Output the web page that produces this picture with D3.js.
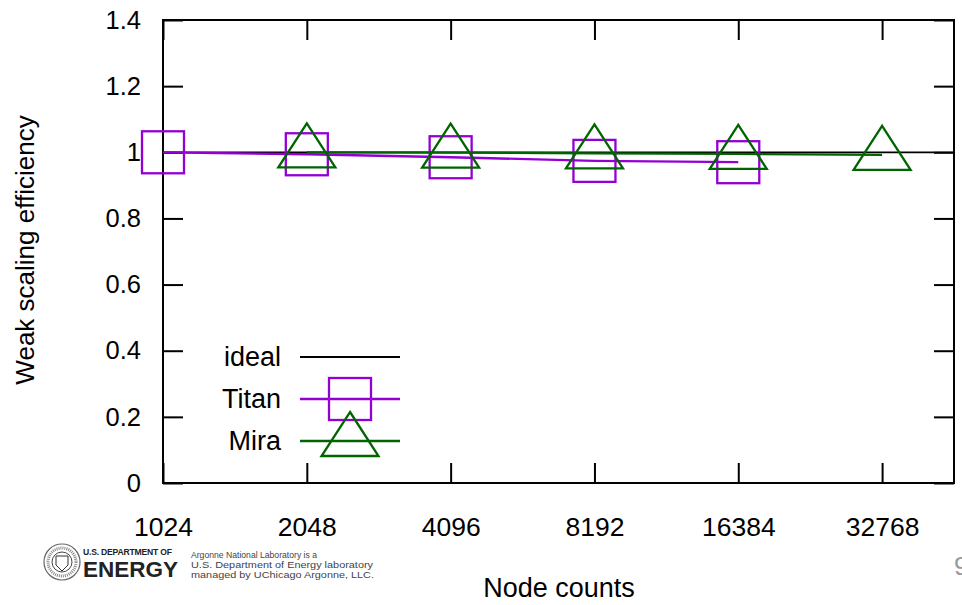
<!DOCTYPE html>
<html>
<head>
<meta charset="utf-8">
<script src="https://cdn.jsdelivr.net/npm/d3@7"></script>
<style>
  html, body { margin: 0; padding: 0; background: #fff; }
  svg { display: block; font-family: "Liberation Sans", Arial, Helvetica, sans-serif; }
</style>
</head>
<body>
<svg id="chart" width="962" height="605"></svg>
<script>
// ---- data ----
const nodeCounts = [1024, 2048, 4096, 8192, 16384, 32768];
const titanNodes = [1024, 2048, 4096, 8192, 16384];
const titanEff   = [1.000, 0.994, 0.985, 0.974, 0.970];
const miraNodes  = [2048, 4096, 8192, 16384, 32768];
const miraEff    = [1.000, 0.999, 0.997, 0.995, 0.992];
const idealEff   = 1.0;
const yTicks     = [0, 0.2, 0.4, 0.6, 0.8, 1, 1.2, 1.4];
const seriesNames = ["ideal", "Titan", "Mira"];

const colors = { ideal: "#000000", Titan: "#9400d3", Mira: "#006400" };

// ---- layout ----
const pL = 163, pR = 954, pT = 20, pB = 483;
const svg = d3.select("#chart");

const x = d3.scaleLog().base(2)
  .domain([1024, 1024 * Math.pow(2, 5.5)])
  .range([pL, pR]);
const y = d3.scaleLinear().domain([0, 1.4]).range([pB, pT]);

// frame
svg.append("rect")
  .attr("x", pL).attr("y", pT)
  .attr("width", pR - pL).attr("height", pB - pT)
  .attr("fill", "none").attr("stroke", "#000").attr("stroke-width", 2);

function styleAxis(g, fontSize) {
  g.select(".domain").remove();
  g.selectAll(".tick line").attr("stroke", "#000").attr("stroke-width", 2);
  g.selectAll(".tick text").attr("fill", "#000").attr("font-size", fontSize)
    .attr("font-family", "'Liberation Sans', Arial, sans-serif");
}

// bottom axis
svg.append("g").attr("transform", `translate(0,${pB})`)
  .call(d3.axisBottom(x).tickValues(nodeCounts).tickFormat(d3.format("d"))
    .tickSize(-20).tickPadding(34))
  .call(g => styleAxis(g, 26.5));
// top axis
svg.append("g").attr("transform", `translate(0,${pT})`)
  .call(d3.axisTop(x).tickValues(nodeCounts).tickFormat("").tickSize(-20))
  .call(g => styleAxis(g, 0));
// left axis
svg.append("g").attr("transform", `translate(${pL},0)`)
  .call(d3.axisLeft(y).tickValues(yTicks).tickFormat(d => String(+d.toFixed(1)))
    .tickSize(-20).tickPadding(22))
  .call(g => styleAxis(g, 25.5));
// right axis
svg.append("g").attr("transform", `translate(${pR},0)`)
  .call(d3.axisRight(y).tickValues(yTicks).tickFormat("").tickSize(-20))
  .call(g => styleAxis(g, 0));

// axis titles
svg.append("text")
  .attr("x", 559).attr("y", 597)
  .attr("text-anchor", "middle").attr("font-size", 27).attr("fill", "#000")
  .text("Node counts");
svg.append("text")
  .attr("transform", "translate(34,250) rotate(-90)")
  .attr("text-anchor", "middle").attr("font-size", 26).attr("fill", "#000")
  .text("Weak scaling efficiency");

// marker shapes
const sq = 42;      // square side
const triW = 57, triUp = 29, triDown = 15;
function drawSquare(g, cx, cy, color) {
  g.append("rect").attr("x", cx - sq / 2).attr("y", cy - sq / 2)
    .attr("width", sq).attr("height", sq)
    .attr("fill", "none").attr("stroke", color).attr("stroke-width", 2.3);
}
function drawTriangle(g, cx, cy, color) {
  g.append("path")
    .attr("d", `M${cx},${cy - triUp}L${cx + triW / 2},${cy + triDown}L${cx - triW / 2},${cy + triDown}Z`)
    .attr("fill", "none").attr("stroke", color).attr("stroke-width", 2.3)
    .attr("stroke-linejoin", "miter");
}

const line = d3.line().x(d => x(d[0])).y(d => y(d[1]));

// ideal line
svg.append("path")
  .datum([[1024, idealEff], [1024 * Math.pow(2, 5.5), idealEff]])
  .attr("d", line).attr("fill", "none")
  .attr("stroke", colors.ideal).attr("stroke-width", 1.8);

// Titan
const titanData = titanNodes.map((n, i) => [n, titanEff[i]]);
svg.append("path").datum(titanData).attr("d", line)
  .attr("fill", "none").attr("stroke", colors.Titan).attr("stroke-width", 2.3);
const gT = svg.append("g");
titanData.forEach(d => drawSquare(gT, x(d[0]), y(d[1]), colors.Titan));

// Mira
const miraData = miraNodes.map((n, i) => [n, miraEff[i]]);
svg.append("path").datum(miraData).attr("d", line)
  .attr("fill", "none").attr("stroke", colors.Mira).attr("stroke-width", 2.3);
const gM = svg.append("g");
miraData.forEach(d => drawTriangle(gM, x(d[0]), y(d[1]), colors.Mira));

// legend
const legY = [357, 399, 441];
const leg = svg.append("g");
seriesNames.forEach((name, i) => {
  leg.append("text").attr("x", 281).attr("y", legY[i]).attr("dy", "0.35em")
    .attr("text-anchor", "end").attr("font-size", 27).attr("fill", "#000").text(name);
  leg.append("line").attr("x1", 300).attr("x2", 400).attr("y1", legY[i]).attr("y2", legY[i])
    .attr("stroke", colors[name]).attr("stroke-width", name === "ideal" ? 1.8 : 2.3);
  if (name === "Titan") drawSquare(leg, 350, legY[i], colors.Titan);
  if (name === "Mira") drawTriangle(leg, 350, legY[i], colors.Mira);
});

// DOE footer
const foot = svg.append("g");
foot.append("circle").attr("cx", 62).attr("cy", 562).attr("r", 18)
  .attr("fill", "none").attr("stroke", "#666").attr("stroke-width", 1.2);
foot.append("circle").attr("cx", 62).attr("cy", 562).attr("r", 14)
  .attr("fill", "none").attr("stroke", "#888").attr("stroke-width", 3).attr("stroke-dasharray", "1,1");
foot.append("circle").attr("cx", 62).attr("cy", 562).attr("r", 10)
  .attr("fill", "none").attr("stroke", "#444").attr("stroke-width", 1);
foot.append("path").attr("d", "M56,556 L68,556 L68,565 L62,571 L56,565 Z")
  .attr("fill", "none").attr("stroke", "#333").attr("stroke-width", 1);
foot.append("text").attr("x", 83).attr("y", 555).attr("font-size", 8.6)
  .attr("font-weight", "bold").attr("fill", "#222").attr("textLength", 89)
  .text("U.S. DEPARTMENT OF");
foot.append("text").attr("x", 83).attr("y", 577).attr("font-size", 22.5)
  .attr("font-weight", "bold").attr("fill", "#222").attr("textLength", 95)
  .attr("lengthAdjust", "spacingAndGlyphs")
  .text("ENERGY");
const footLines = ["Argonne National Laboratory is a",
                   "U.S. Department of Energy laboratory",
                   "managed by UChicago Argonne, LLC."];
const footWidths = [126, 182, 183];
footLines.forEach((t, i) => {
  foot.append("text").attr("x", 191).attr("y", 558 + i * 10).attr("font-size", 8.7)
    .attr("fill", "#444").attr("textLength", footWidths[i])
    .attr("lengthAdjust", "spacingAndGlyphs").text(t);
});

// page number
svg.append("text").attr("x", 954).attr("y", 575).attr("font-size", 26)
  .attr("fill", "#999").text("9");
</script>
</body>
</html>
